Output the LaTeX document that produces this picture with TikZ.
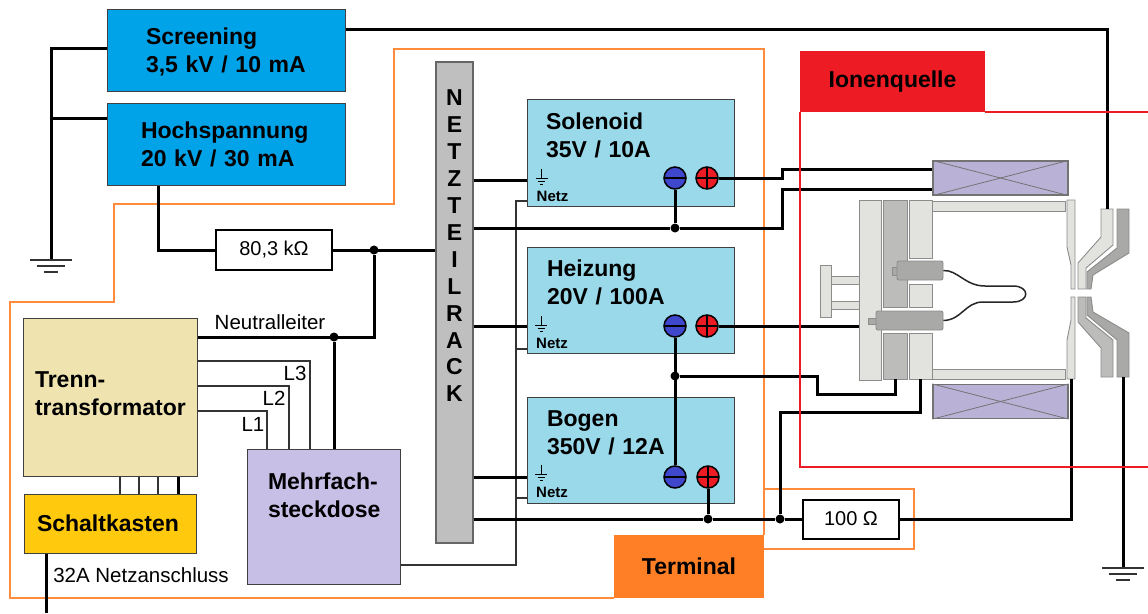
\documentclass[tikz,border=0pt]{standalone}
\usepackage{fontspec}
\setmainfont{Liberation Sans}
\usepackage{tikz}
\usetikzlibrary{positioning}

\definecolor{hvblau}{HTML}{00A2E8}
\definecolor{psublau}{HTML}{99D9EA}
\definecolor{trennbeige}{HTML}{EFE4B0}
\definecolor{schaltgelb}{HTML}{FFC90E}
\definecolor{steckviolett}{HTML}{C8BFE7}
\definecolor{termorange}{HTML}{FF7F27}
\definecolor{ionenrot}{HTML}{ED1C24}
\definecolor{polblau}{HTML}{3F48CC}
\definecolor{spulelila}{HTML}{B9B2D6}
\definecolor{hell}{HTML}{E2E2DF}
\definecolor{mittel}{HTML}{BCBCBA}
\definecolor{dunkel}{HTML}{A9A9A7}

\newcommand{\erde}[1]{
	\draw[wirethin] ([xshift=-21pt]#1) -- ([xshift=21pt]#1);
	\draw[wirethin] ([xshift=-14pt,yshift=-6pt]#1) -- ([xshift=14pt,yshift=-6pt]#1);
	\draw[wirethin] ([xshift=-7pt,yshift=-12pt]#1) -- ([xshift=7pt,yshift=-12pt]#1);
}
\newcommand{\netzerde}[3]{
	\draw[line width=0.8pt] (#1,#2) -- (#1,#2+9);
	\draw[line width=0.8pt] (#1-6,#2+9) -- (#1+6,#2+9);
	\draw[line width=0.8pt] (#1-3.5,#2+12) -- (#1+3.5,#2+12);
	\draw[line width=0.8pt] (#1-1.5,#2+15) -- (#1+1.5,#2+15);
	\node[netzlabel] (#3) at (#1+11,#2+27) {Netz};
}

\begin{document}
\begin{tikzpicture}[
		x=1pt, y=-1pt,
		wirethick/.style={line width=3pt, line join=miter},
		wirethin/.style={line width=2pt, black!80},
		bigbox/.style={draw=black!75, line width=1pt, align=left, font=\fontsize{23}{28}\selectfont\bfseries},
		psubox/.style={bigbox, fill=psublau, minimum width=207pt, text width=169pt, inner xsep=19pt, text depth=63pt},
		hvbox/.style={bigbox, fill=hvblau, minimum width=238pt, minimum height=82pt, text width=160pt, inner xsep=39pt},
		resbox/.style={draw=black, line width=2pt, fill=white, font=\fontsize{20}{24}\selectfont},
		wirelabel/.style={font=\fontsize{20.5}{24}\selectfont, inner sep=0pt},
		netzlabel/.style={font=\fontsize{15}{18}\selectfont\bfseries, inner sep=0pt},
		tagbox/.style={font=\fontsize{23}{28}\selectfont\bfseries},
		coil/.style={draw=black!55, line width=1.2pt, fill=spulelila, minimum width=135pt, minimum height=34pt},
		part/.style={draw=black!45, line width=0.9pt, inner sep=0pt},
		junction/.style={circle, fill=black, inner sep=0pt, minimum size=9pt},
		minuspin/.style={circle, draw=black, line width=1.5pt, fill=polblau, minimum size=22pt, inner sep=0pt,
			path picture={\draw[line width=1.5pt] (path picture bounding box.west) -- (path picture bounding box.east);}},
		pluspin/.style={circle, draw=black, line width=1.5pt, fill=ionenrot, minimum size=22pt, inner sep=0pt,
			path picture={\draw[line width=1.5pt] (path picture bounding box.west) -- (path picture bounding box.east);
				\draw[line width=1.5pt] (path picture bounding box.north) -- (path picture bounding box.south);}}
		]
		\useasboundingbox (0,0) rectangle (1148,613);
		
		% Terminal Umriss
		\draw[termorange!90, line width=2pt] (764,535) -- (764,49) -- (394,49) -- (394,204) -- (114,204) -- (114,302) -- (10,302) -- (10,598) -- (614,598);
		\draw[termorange!90, line width=2pt] (764,489) -- (914,489) -- (914,549) -- (764,549);
		
		% Boxen
		\node[hvbox, text depth=28.5pt] (screening) at (226,50) {Screening\\3,5 kV / 10 mA};
		\node[hvbox, text width=170pt, inner xsep=34pt] (hochspannung) at (226,144) {Hochspannung\\20 kV / 30 mA};
		\node[draw=black!60, line width=1.2pt, fill=black!25, minimum width=37pt, minimum height=481pt, inner sep=0pt, align=center,
			font=\fontsize{23}{26.9}\selectfont\bfseries, text depth=113pt] (rack) at (454.5,302.5)
		{N\\E\\T\\Z\\T\\E\\I\\L\\R\\A\\C\\K};
		\node[psubox, minimum height=107pt] (solenoid) at (630.5,152.5) {Solenoid\\35V / 10A};
		\node[psubox, minimum height=106pt, text width=167pt, inner xsep=20pt] (heizung) at (630.5,300) {Heizung\\20V / 100A};
		\node[psubox, minimum height=106pt, text width=167pt, inner xsep=20pt] (bogen) at (630.5,450) {Bogen\\350V / 12A};
		\node[bigbox, fill=trennbeige, minimum width=174pt, minimum height=158pt, text width=150pt, inner xsep=12pt, text depth=34pt] (trenn) at (110,397) {Trenn-\\transformator};
		\node[bigbox, fill=schaltgelb, minimum width=172pt, minimum height=59pt, text width=146pt, inner xsep=13pt] (schalt) at (110,523.5) {Schaltkasten};
		\node[bigbox, fill=steckviolett, minimum width=153pt, minimum height=135pt, text width=111pt, inner xsep=21pt, text depth=71pt] (mehrfach) at (323.5,516.5) {Mehrfach-\\steckdose};
		\node[resbox, minimum width=116pt, minimum height=40pt] (rA) at (274,250) {80,3 kΩ};
		\node[resbox, minimum width=96pt, minimum height=39pt] (rB) at (851,519) {100 Ω};
		\node[tagbox, fill=termorange, minimum width=150pt, minimum height=63pt] (terminal) at (689,566.5) {Terminal};
		
		% Pole
		\node[minuspin] (minusS) at (675,178) {};
		\node[pluspin] (plusS) at (707,178) {};
		\node[minuspin] (minusH) at (675,326) {};
		\node[pluspin] (plusH) at (707,326) {};
		\node[minuspin] (minusB) at (675,477) {};
		\node[pluspin] (plusB) at (708,477) {};
		\netzerde{541.5}{169}{netzS}
		\netzerde{541}{316}{netzH}
		\netzerde{541}{465}{netzB}
		
		% Ionenquelle
		\node[coil] (coilTop) at (1000.5,178) {};
		\node[coil] (coilBot) at (1000.5,401.5) {};
		\foreach \c in {coilTop, coilBot} {
			\draw[black!55, line width=0.8pt] (\c.north west) -- (\c.south east);
			\draw[black!55, line width=0.8pt] (\c.south west) -- (\c.north east);
		}
		\node[part, fill=hell, minimum width=22pt, minimum height=180pt] (plateA) at (870,290) {};
		\node[part, fill=mittel, minimum width=24pt, minimum height=107pt] (plateB) at (895,253.5) {};
		\node[part, fill=mittel, minimum width=24pt, minimum height=46pt] (plateBlow) at (895,356) {};
		\node[part, fill=hell, minimum width=23pt, minimum height=58pt] (plateC) at (920.5,229) {};
		\node[part, fill=hell, minimum width=23pt, minimum height=23pt] (plateCmid) at (920.5,295.5) {};
		\node[part, fill=hell, minimum width=23pt, minimum height=46pt] (plateClow) at (920.5,356) {};
		\node[part, fill=hell, minimum width=133pt, minimum height=10pt] (barTop) at (998.5,206) {};
		\node[part, fill=hell, minimum width=133pt, minimum height=10pt] (barBot) at (998.5,374) {};
		\draw[part, fill=hell] (1067,200) -- (1075,200) -- (1075,289) -- (1071,289) -- (1071,265) -- (1067,247) -- cycle;
		\draw[part, fill=hell] (1067,379) -- (1075,379) -- (1075,297) -- (1071,297) -- (1071,320) -- (1067,340) -- cycle;
		\draw[part, fill=hell] (859,284) -- (831,284) -- (831,276) -- (859,276) -- cycle;
		\draw[part, fill=hell] (859,301) -- (831,301) -- (831,309) -- (859,309) -- cycle;
		\draw[part, fill=hell] (820,265) -- (831,265) -- (831,317) -- (820,317) -- cycle;
		% Kathoden
		\draw[part, fill=dunkel] (892,267) -- (897,267) -- (897,275) -- (892,275) -- cycle;
		\node[part, fill=dunkel, rounded corners=2pt, minimum width=46pt, minimum height=19pt] (tubeA) at (920,270.5) {};
		\draw[part, fill=dunkel] (868,318) -- (876,318) -- (876,324) -- (868,324) -- cycle;
		\node[part, fill=dunkel, rounded corners=2pt, minimum width=67pt, minimum height=19pt] (tubeB) at (909.5,320.5) {};
		\draw[black!85, line width=1.5pt] (tubeA.east) .. controls (958,270) and (965,286) .. (985,286) -- (1013,286) .. controls (1030,286) and (1030,302) .. (1013,302) -- (983,302) .. controls (965,302) and (962,320) .. (tubeB.east);
		% Extraktion
		\draw[part, fill=hell] (1101,209) -- (1113,209) -- (1113,245) -- (1086,268) -- (1086,289) -- (1078,289) -- (1078,263) -- (1101,237) -- cycle;
		\draw[part, fill=dunkel] (1117,209) -- (1129,209) -- (1129,253) -- (1093,275) -- (1091,289) -- (1087,289) -- (1087,272) -- (1117,248) -- cycle;
		\draw[part, fill=mittel] (1078,297) -- (1086,297) -- (1086,318) -- (1113,340) -- (1113,377) -- (1101,377) -- (1101,348) -- (1078,322) -- cycle;
		\draw[part, fill=dunkel] (1087,297) -- (1091,297) -- (1093,312) -- (1129,333) -- (1129,377) -- (1117,377) -- (1117,340) -- (1087,315) -- cycle;
		
		% Punkte
		\coordinate (extractTop) at (1107,209);
		\coordinate (extractEnd) at (1123,377);
		\coordinate (plateEnd) at (1071,379);
		\coordinate (gndA) at (51,260);
		\coordinate (gndB) at (1123,568);
		\coordinate (netzEnd) at (46,613);
		\coordinate (knickA) at (782,228);
		\coordinate (knickB) at (782,178);
		\coordinate (knickC) at (817,394);
		\coordinate (knickD) at (780,412);
		\node[junction] (jR) at (374,250) {};
		\node[junction] (jN) at (334,337) {};
		\node[junction] (jS) at (675,228) {};
		\node[junction] (jB) at (675,376) {};
		\node[junction] (jP) at (708,519) {};
		\node[junction] (jT) at (780,519) {};
		
		% Leitungen
		\draw[wirethick] ([yshift=21pt]screening.east) -| (extractTop);
		\draw[wirethick] ([yshift=2pt]screening.west) -| (gndA);
		\draw[wirethick] ([yshift=26pt]hochspannung.west) -| (gndA);
		\draw[wirethick] ([xshift=-68pt]hochspannung.south) |- (rA.west);
		\draw[wirethick] (rA.east) -- (rA.east -| rack.west);
		\draw[wirethick] ([yshift=60pt]trenn.east) -| (jR);
		\draw[wirethick] (jN) -- (jN |- mehrfach.north);
		\draw[wirethin] ([yshift=36pt]trenn.east) -| ([xshift=-13.5pt]mehrfach.north);
		\draw[wirethin] ([yshift=11pt]trenn.east) -| ([xshift=-34.5pt]mehrfach.north);
		\draw[wirethin] ([yshift=-14pt]trenn.east) -| ([xshift=-56.5pt]mehrfach.north);
		\foreach \dx in {10,29,48} {
			\draw[wirethin] ([xshift=\dx pt]trenn.south) -- ([xshift=\dx pt]schalt.north);
		}
		\draw[wirethick] ([xshift=68pt]trenn.south) -- ([xshift=68pt]schalt.north);
		\draw[wirethick] ([xshift=-64pt]schalt.south) -- (netzEnd);
		
		\draw[wirethin] ([yshift=-48.5pt]mehrfach.east) -| ([xshift=-11pt,yshift=-48.5pt]solenoid.west) -- ([yshift=-48.5pt]solenoid.west);
		\draw[wirethin] ([xshift=-11pt,yshift=-49pt]heizung.west) -- ([yshift=-49pt]heizung.west);
		\draw[wirethin] ([xshift=-11pt,yshift=-48pt]bogen.west) -- ([yshift=-48pt]bogen.west);
		\draw[wirethick] ([yshift=-27.5pt]solenoid.west -| rack.east) -- ([yshift=-27.5pt]solenoid.west);
		\draw[wirethick] ([yshift=-26pt]heizung.west -| rack.east) -- ([yshift=-26pt]heizung.west);
		\draw[wirethick] ([yshift=-27pt]bogen.west -| rack.east) -- ([yshift=-27pt]bogen.west);
		
		\draw[wirethick] (jS -| rack.east) -- (jS) -- (knickA) |- ([yshift=-11pt]coilTop.west);
		\draw[wirethick] (plusS.east) -- (knickB) |- ([yshift=9pt]coilTop.west);
		\draw[wirethick] (minusS.south) -- (jS);
		\draw[wirethick] (plusH.east) -- (plusH.east -| plateA.west);
		\draw[wirethick] (minusH.south) -- (minusB.north);
		\draw[wirethick] (jB) -| (knickC) -| (plateBlow.south);
		\draw[wirethick] (jT) -- (knickD) -| (plateClow.south);
		\draw[wirethick] (jP -| rack.east) -- (jP) -- (jT) -- (rB.west);
		\draw[wirethick] (plusB.south) -- (jP);
		\draw[wirethick] (rB.east) -| (plateEnd);
		\draw[wirethick] (extractEnd) -- (gndB);
		\erde{gndA}
		\erde{gndB}
		
		% Ionenquelle Umriss
		\draw[ionenrot, line width=2pt] (800,112) -- (800,467) -- (1148,467);
		\draw[ionenrot, line width=2pt] (985,112) -- (1148,112);
		\node[tagbox, fill=ionenrot, minimum width=185pt, minimum height=61pt] (ionen) at (892.5,81.5) {Ionenquelle};
		
		% Beschriftung
		\node[wirelabel] (lblNeutral) at (270,322) {Neutralleiter};
		\node[wirelabel] (lblThree) at (295,373) {L3};
		\node[wirelabel] (lblTwo) at (274,398) {L2};
		\node[wirelabel] (lblOne) at (253,424) {L1};
		\node[wirelabel] (lblNetz) at (141,575) {32A Netzanschluss};
		
	\end{tikzpicture}
\end{document}
